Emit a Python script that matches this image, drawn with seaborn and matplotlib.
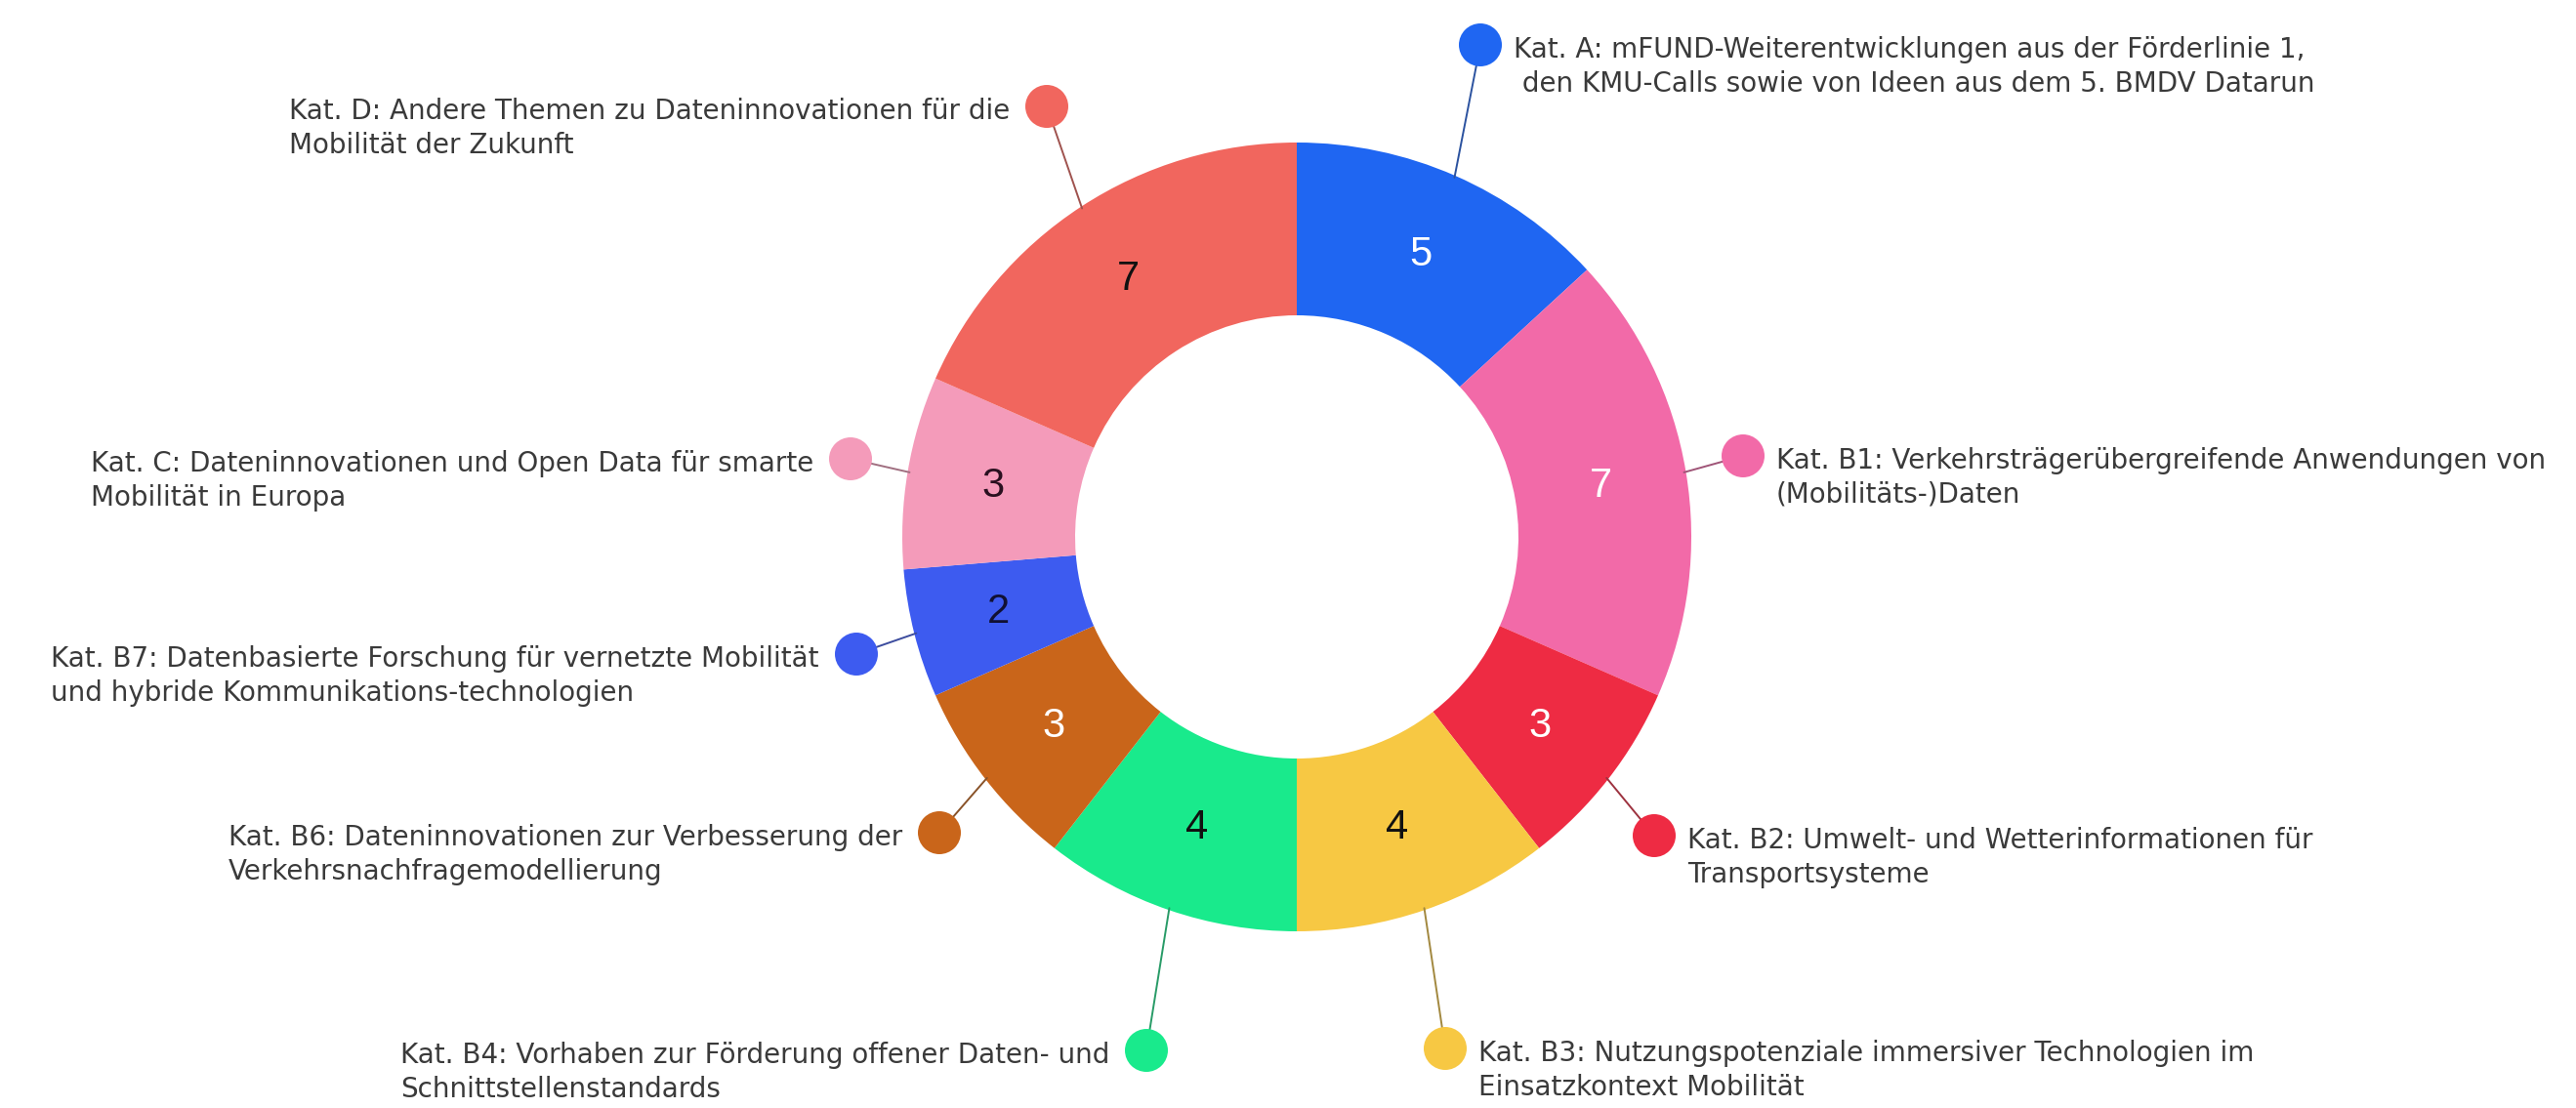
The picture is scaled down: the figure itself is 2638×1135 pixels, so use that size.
import numpy as np
import matplotlib
matplotlib.use("Agg")
import matplotlib.pyplot as plt
import matplotlib.colors as mcolors
import seaborn as sns

# ---------------- data ----------------
categories = ["A", "B1", "B2", "B3", "B4", "B6", "B7", "C", "D"]
values = [5, 7, 3, 4, 4, 3, 2, 3, 7]
labels = [
    "Kat. A: mFUND-Weiterentwicklungen aus der Förderlinie 1,\n den KMU-Calls sowie von Ideen aus dem 5. BMDV Datarun",
    "Kat. B1: Verkehrsträgerübergreifende Anwendungen von\n(Mobilitäts-)Daten",
    "Kat. B2: Umwelt- und Wetterinformationen für\nTransportsysteme",
    "Kat. B3: Nutzungspotenziale immersiver Technologien im\nEinsatzkontext Mobilität",
    "Kat. B4: Vorhaben zur Förderung offener Daten- und\nSchnittstellenstandards",
    "Kat. B6: Dateninnovationen zur Verbesserung der\nVerkehrsnachfragemodellierung",
    "Kat. B7: Datenbasierte Forschung für vernetzte Mobilität\nund hybride Kommunikations-technologien",
    "Kat. C: Dateninnovationen und Open Data für smarte\nMobilität in Europa",
    "Kat. D: Andere Themen zu Dateninnovationen für die\nMobilität der Zukunft",
]
colors = ["#1F66F2", "#F26AA8", "#EE2B43", "#F7C843", "#19EA8C",
          "#C9651A", "#3D5BF0", "#F49BBA", "#F1665E"]
number_colors = ["white", "white", "white", "#111111", "#111111",
                 "white", "#111133", "#2a1020", "#111111"]

# ---------------- layout (pixel coordinates, y from top) ----------------
W, H = 2638, 1135
CX, CY = 1328, 550
R_OUT, R_IN = 404, 227
label_dots = [(1516, 46), (1785, 467), (1694, 856), (1480, 1074), (1174, 1076),
              (962, 853), (877, 670), (871, 470), (1072, 109)]
label_side = ["right", "right", "right", "right", "left", "left", "left", "left", "left"]

def fy(y):
    return H - y

sns.set_theme(style="white")
plt.rcParams["font.family"] = ["DejaVu Sans"]

fig = plt.figure(figsize=(W / 100, H / 100), dpi=100)
fig.patch.set_facecolor("white")
ax = fig.add_axes([0, 0, 1, 1])

wedges, _ = ax.pie(
    values, colors=colors, startangle=90, counterclock=False,
    radius=R_OUT, center=(CX, fy(CY)),
    wedgeprops=dict(width=R_OUT - R_IN, edgecolor="none", linewidth=0),
)

ax.set_xlim(0, W)
ax.set_ylim(0, H)
ax.set_aspect("equal")
ax.axis("off")

total = float(sum(values))
cum = np.cumsum([0] + values[:-1])
r_mid = (R_OUT + R_IN) / 2
for i, v in enumerate(values):
    mid = (cum[i] + v / 2) / total * 2 * np.pi   # clockwise from top
    sx, sy = np.sin(mid), np.cos(mid)
    # value label
    ax.text(CX + r_mid * sx, fy(CY) + r_mid * sy, str(v),
            ha="center", va="center", fontsize=30, color=number_colors[i],
            family=["Liberation Sans", "DejaVu Sans"])
    # leader line
    dx, dy = label_dots[i]
    line_col = tuple(0.55 * np.array(mcolors.to_rgb(colors[i])) + 0.45 * np.array(mcolors.to_rgb("#3a3a3a")))
    ax.plot([CX + (R_OUT - 2) * sx, dx], [fy(CY) + (R_OUT - 2) * sy, fy(dy)],
            color=line_col, lw=1.4, zorder=3, solid_capstyle="round")
    ax.scatter([dx], [fy(dy)], s=(44 * 0.72) ** 2, color=colors[i], zorder=4, edgecolors="none")
    if label_side[i] == "right":
        ax.text(dx + 34, fy(dy - 9), labels[i], ha="left", va="top",
                multialignment="left", fontsize=20, color="#3a3a3a", linespacing=1.3)
    else:
        ax.text(dx - 38, fy(dy - 9), labels[i], ha="right", va="top",
                multialignment="left", fontsize=20, color="#3a3a3a", linespacing=1.3)

fig.savefig("out.png", dpi=100, facecolor="white")
